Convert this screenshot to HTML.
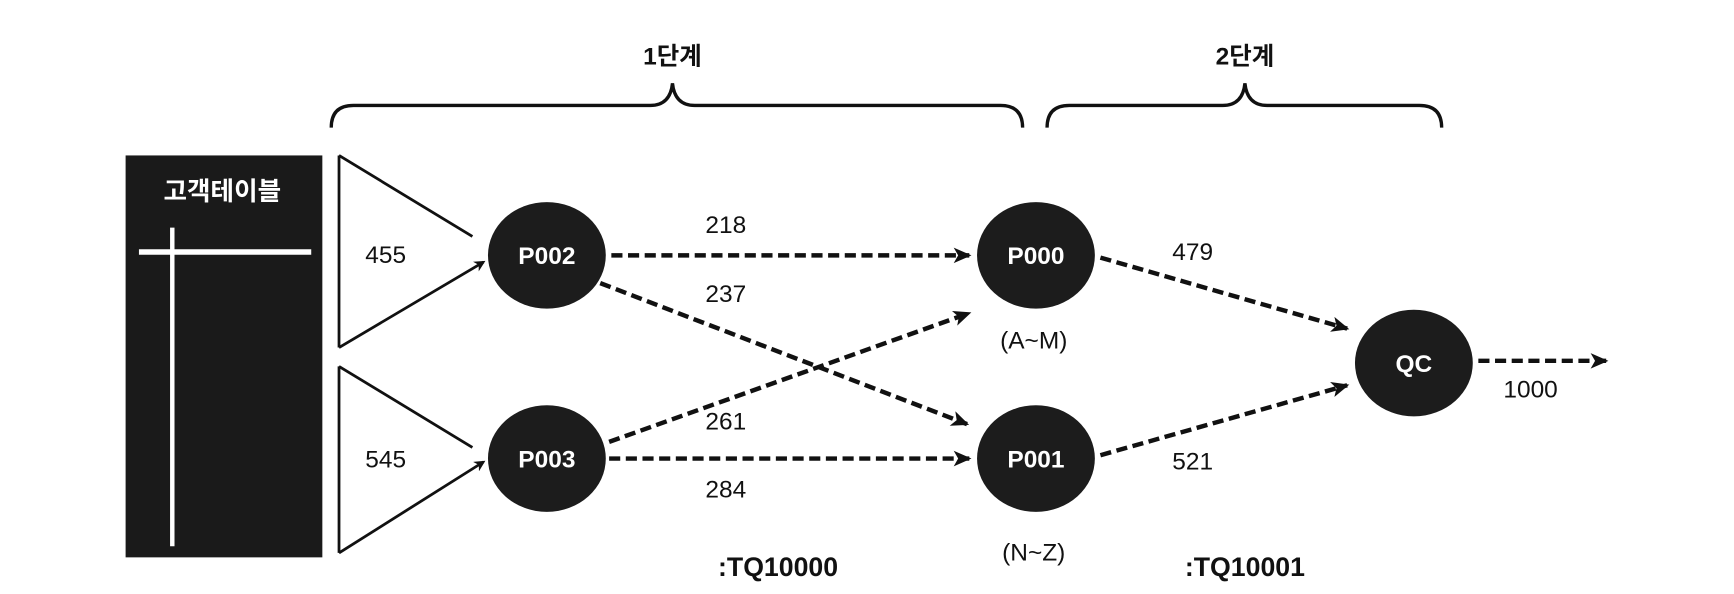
<!DOCTYPE html>
<html><head><meta charset="utf-8"><style>
html,body{margin:0;padding:0;background:#fff;}
svg{display:block;}
text{font-family:"Liberation Sans","Noto Sans CJK KR",sans-serif;}
</style></head><body>
<svg width="1734" height="594" viewBox="0 0 1560 535" preserveAspectRatio="none" xmlns="http://www.w3.org/2000/svg">
<defs>
<marker id="ah" markerWidth="10" markerHeight="10" refX="8" refY="5" orient="auto" markerUnits="userSpaceOnUse">
<path d="M0,0 L10,5 L0,10 L3,5 Z" fill="#111"/></marker>
<marker id="ah2" markerWidth="16" markerHeight="16" refX="14" refY="8" orient="auto" markerUnits="userSpaceOnUse">
<path d="M0,1 L16,8 L0,15 L4,8 Z" fill="#111"/></marker>
</defs>
<!-- braces -->
<path d="M298,115 Q298,95 318,95 L585,95 Q603,95 605,75 Q607,95 625,95 L900,95 Q920,95 920,115" fill="none" stroke="#111" stroke-width="3"/>
<path d="M942,115 Q942,95 962,95 L1100,95 Q1118,95 1120,75 Q1122,95 1140,95 L1277,95 Q1297,95 1297,115" fill="none" stroke="#111" stroke-width="3"/>
<text x="605" y="58" font-size="22" font-weight="bold" text-anchor="middle" fill="#111">1단계</text>
<text x="1120" y="58" font-size="22" font-weight="bold" text-anchor="middle" fill="#111">2단계</text>
<!-- table -->
<rect x="113" y="140" width="177" height="362" fill="#1a1a1a"/>
<text x="200" y="180" font-size="23" font-weight="bold" text-anchor="middle" fill="#fff">고객테이블</text>
<line x1="125" y1="227" x2="280" y2="227" stroke="#fff" stroke-width="5"/>
<line x1="155" y1="205" x2="155" y2="492" stroke="#fff" stroke-width="4"/>
<!-- triangles -->
<g stroke="#111" stroke-width="2.5" fill="none">
<line x1="305" y1="140" x2="305" y2="313"/>
<line x1="305" y1="140" x2="425" y2="213"/>
<line x1="305" y1="313" x2="435" y2="236" marker-end="url(#ah)"/>
<line x1="305" y1="330" x2="305" y2="498"/>
<line x1="305" y1="330" x2="425" y2="403"/>
<line x1="305" y1="498" x2="435" y2="416" marker-end="url(#ah)"/>
</g>
<text x="347" y="237" font-size="22" text-anchor="middle" fill="#111">455</text>
<text x="347" y="421" font-size="22" text-anchor="middle" fill="#111">545</text>
<!-- dashed arrows -->
<g stroke="#111" stroke-width="4" stroke-dasharray="10,5" fill="none">
<line x1="550" y1="230" x2="872" y2="230" marker-end="url(#ah2)"/>
<line x1="540" y1="255" x2="870" y2="382" marker-end="url(#ah2)"/>
<line x1="548" y1="398" x2="872" y2="282" marker-end="url(#ah2)"/>
<line x1="548" y1="413" x2="872" y2="413" marker-end="url(#ah2)"/>
<line x1="990" y1="232" x2="1212" y2="296" marker-end="url(#ah2)"/>
<line x1="990" y1="410" x2="1212" y2="347" marker-end="url(#ah2)"/>
<line x1="1330" y1="325" x2="1445" y2="325" marker-end="url(#ah2)"/>
</g>
<!-- nodes -->
<g fill="#1c1c1c">
<ellipse cx="492" cy="230" rx="53" ry="48"/>
<ellipse cx="492" cy="413" rx="53" ry="48"/>
<ellipse cx="932" cy="230" rx="53" ry="48"/>
<ellipse cx="932" cy="413" rx="53" ry="48"/>
<ellipse cx="1272" cy="327" rx="53" ry="48"/>
</g>
<g font-size="22" font-weight="bold" fill="#fff" text-anchor="middle">
<text x="492" y="238">P002</text>
<text x="492" y="421">P003</text>
<text x="932" y="238">P000</text>
<text x="932" y="421">P001</text>
<text x="1272" y="335">QC</text>
</g>
<g font-size="22" fill="#111" text-anchor="middle">
<text x="653" y="210">218</text>
<text x="653" y="272">237</text>
<text x="653" y="387">261</text>
<text x="653" y="448">284</text>
<text x="1073" y="234">479</text>
<text x="1073" y="423">521</text>
<text x="1377" y="358">1000</text>
<text x="930" y="314">(A~M)</text>
<text x="930" y="505">(N~Z)</text>
</g>
<text x="700" y="519" font-size="24" font-weight="bold" text-anchor="middle" fill="#111">:TQ10000</text>
<text x="1120" y="519" font-size="24" font-weight="bold" text-anchor="middle" fill="#111">:TQ10001</text>
</svg>
</body></html>
